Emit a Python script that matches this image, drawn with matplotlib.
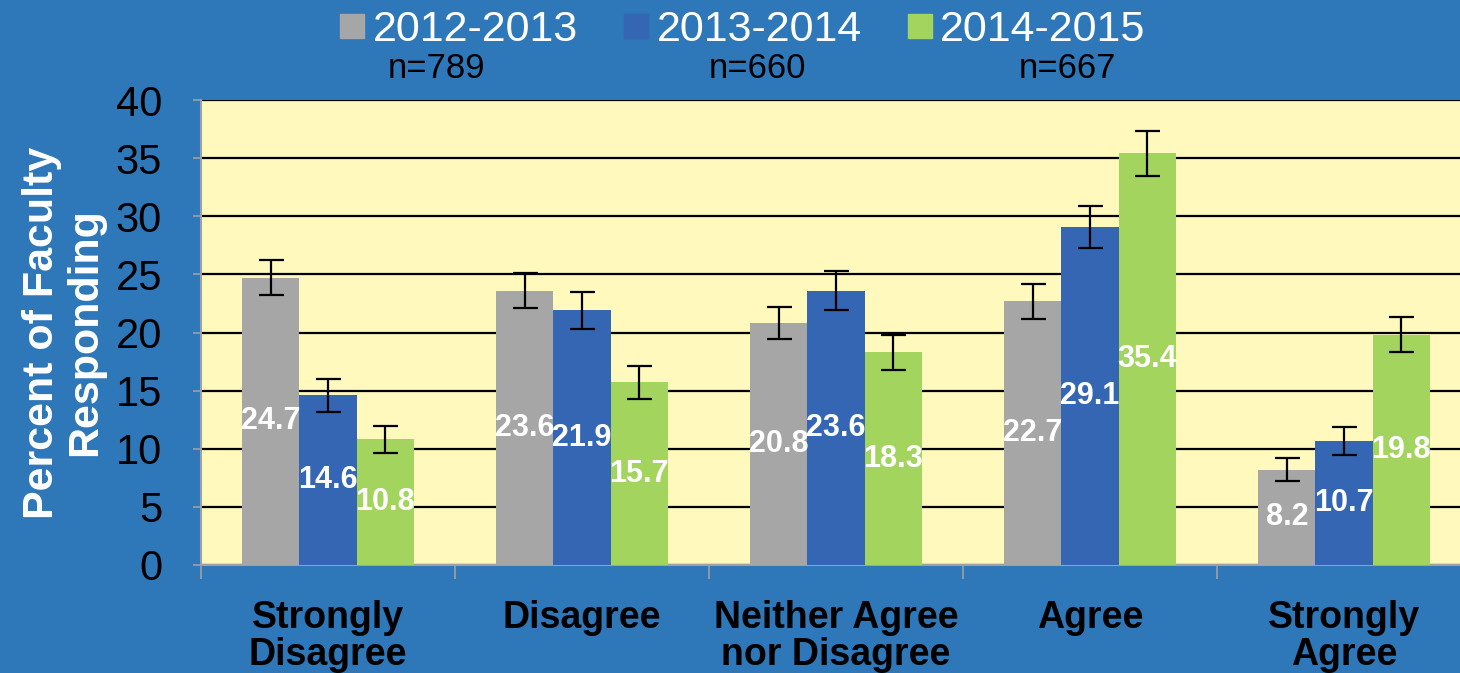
import numpy as np
import matplotlib.pyplot as plt
from matplotlib.patches import Rectangle

plt.rcParams['font.family'] = ['Liberation Sans', 'DejaVu Sans']

# data
categories = ['Strongly\nDisagree', 'Disagree', 'Neither Agree\nnor Disagree', 'Agree', 'Strongly\nAgree']
years = ['2012-2013', '2013-2014', '2014-2015']
n_labels = ['n=789', 'n=660', 'n=667']
v_2012 = [24.7, 23.6, 20.8, 22.7, 8.2]
v_2013 = [14.6, 21.9, 23.6, 29.1, 10.7]
v_2014 = [10.8, 15.7, 18.3, 35.4, 19.8]
e_2012 = [1.5, 1.5, 1.4, 1.5, 1.0]
e_2013 = [1.4, 1.6, 1.7, 1.8, 1.2]
e_2014 = [1.2, 1.4, 1.5, 1.9, 1.5]

colors = ['#A6A6A6', '#3566B4', '#A2D45E']
bg = '#2E77B8'

fig = plt.figure(figsize=(14.6, 6.73), dpi=100, facecolor=bg)
ax = fig.add_axes([201/1460, 1-565/673, 1270/1460, 465/673])
ax.set_facecolor('#FFF9BE')

x = np.arange(len(categories))
w = 0.225
series = [(v_2012, e_2012), (v_2013, e_2013), (v_2014, e_2014)]
for i, (vals, errs) in enumerate(series):
    pos = x + (i-1)*w
    ax.bar(pos, vals, w, color=colors[i], zorder=3,
           yerr=errs, error_kw=dict(ecolor='black', elinewidth=1.6, capsize=9, capthick=1.6))
    for p, v in zip(pos, vals):
        ax.text(p, v/2, f'{v}', ha='center', va='center', color='white',
                fontsize=22, fontweight='bold', zorder=4)

ax.set_ylim(0, 40)
ax.set_xlim(-0.5, 4.5)
ax.set_yticks(range(0, 41, 5))
ax.tick_params(axis='y', labelsize=30, colors='black', length=6, width=1.2, pad=22)
ax.yaxis.grid(True, color='black', linewidth=1.6, zorder=1)
ax.set_axisbelow(True)

ax.set_xticks(x)
ax.set_xticklabels(categories, fontsize=27, fontweight='bold', linespacing=1.05)
ax.set_xticks(np.arange(-0.5, 4.6, 1), minor=True)
ax.tick_params(axis='x', which='major', length=0, pad=25)
ax.tick_params(axis='x', which='minor', length=10, width=1.2, color='#A0A0A0')

for s in ['top', 'right']:
    ax.spines[s].set_visible(False)
for s in ['left', 'bottom']:
    ax.spines[s].set_color('#A0A0A0')
    ax.spines[s].set_linewidth(1.5)
ax.tick_params(axis='y', color='#A0A0A0')

ax.set_ylabel('Percent of Faculty\nResponding', fontsize=31, fontweight='bold',
              color='white', linespacing=1.1)
ax.yaxis.set_label_coords(-96/1270, 0.5)

# legend drawn across the top
sq_x = [340, 624, 908]
txt_x = [373, 657, 940]
n_x = [436, 757, 1067]
for i in range(3):
    fig.patches.append(Rectangle((sq_x[i]/1460, 1-38/673), 24/1460, 24/673,
                                 transform=fig.transFigure, color=colors[i]))
    fig.text(txt_x[i]/1460, 1-30/673, years[i], color='white', fontsize=31,
             va='center', ha='left')
    fig.text(n_x[i]/1460, 1-68/673, n_labels[i], color='black', fontsize=25,
             va='center', ha='center')

fig.savefig('out.png', dpi=100, facecolor=bg)
